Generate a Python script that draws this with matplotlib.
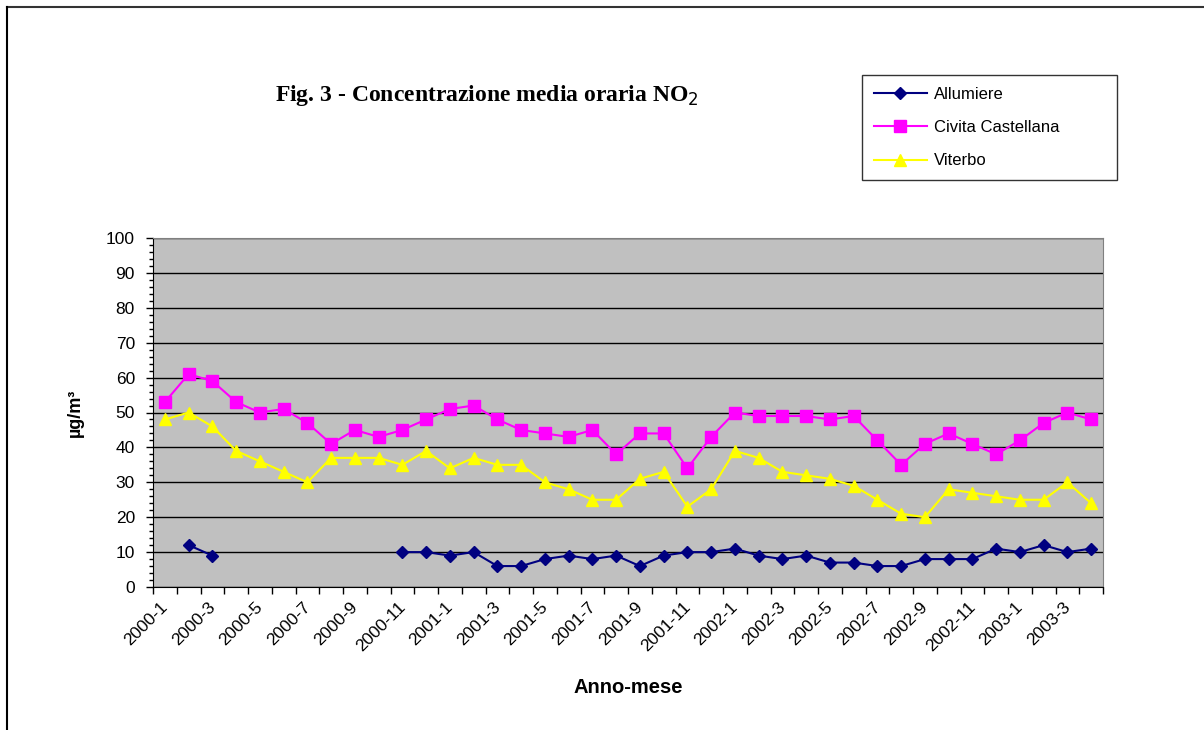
import numpy as np
from matplotlib import pyplot as plt
from matplotlib.lines import Line2D
from matplotlib.ticker import MultipleLocator

plt.rcParams['font.family'] = ['Liberation Sans', 'DejaVu Sans']

# months 2000-1 .. 2003-4
months = []
for year in [2000, 2001, 2002, 2003]:
    last = 4 if year == 2003 else 12
    for m in range(1, last + 1):
        months.append(str(year) + '-' + str(m))

nan = np.nan
allumiere = [nan, 12, 9, nan, nan, nan, nan, nan, nan, nan,
             10, 10, 9, 10, 6, 6, 8, 9, 8, 9,
             6, 9, 10, 10, 11, 9, 8, 9, 7, 7,
             6, 6, 8, 8, 8, 11, 10, 12, 10, 11]
civita = [53, 61, 59, 53, 50, 51, 47, 41, 45, 43,
          45, 48, 51, 52, 48, 45, 44, 43, 45, 38,
          44, 44, 34, 43, 50, 49, 49, 49, 48, 49,
          42, 35, 41, 44, 41, 38, 42, 47, 50, 48]
viterbo = [48, 50, 46, 39, 36, 33, 30, 37, 37, 37,
           35, 39, 34, 37, 35, 35, 30, 28, 25, 25,
           31, 33, 23, 28, 39, 37, 33, 32, 31, 29,
           25, 21, 20, 28, 27, 26, 25, 25, 30, 24]

x = np.arange(len(months))

fig = plt.figure(figsize=(12.04, 7.30), dpi=100)
ax = fig.add_axes([153/1204, 1 - 587/730, 950/1204, 349/730])
ax.set_facecolor('#C0C0C0')

ax.plot(x, allumiere, color='#000080', marker='D', markersize=6, lw=1.5, label='Allumiere')
ax.plot(x, civita, color='#FF00FF', marker='s', markersize=8, lw=1.5, label='Civita Castellana')
ax.plot(x, viterbo, color='#FFFF00', marker='^', markersize=9, lw=1.5, label='Viterbo')

ax.set_xlim(-0.5, len(months) - 0.5)
ax.set_ylim(0, 100)
ax.yaxis.set_major_locator(MultipleLocator(10))
ax.yaxis.set_minor_locator(MultipleLocator(2))
ax.grid(axis='y', which='major', color='black', lw=1)
ax.set_axisbelow(True)
ax.tick_params(axis='y', which='major', length=5, width=1, labelsize=12.5, pad=8)
ax.tick_params(axis='y', which='minor', length=3, width=1)

ax.set_xticks(np.arange(-0.5, len(months), 1))
ax.set_xticklabels([])
ax.tick_params(axis='x', length=5, width=1)
for i in range(0, len(months), 2):
    ax.text(i - 0.2, -3.5, months[i], rotation=45, ha='right', va='top',
            rotation_mode='anchor', fontsize=12.5, transform=ax.transData)

for s in ['top', 'right']:
    ax.spines[s].set_color('#808080')
ax.spines['left'].set_color('black')
ax.spines['bottom'].set_color('black')

ax.set_xlabel('Anno-mese', fontsize=14.5, fontweight='bold', labelpad=57)
ax.set_ylabel('µg/m³', fontsize=13, fontweight='bold', labelpad=16)

fig.text(487/1204, 1 - 95/730, 'Fig. 3 - Concentrazione media oraria NO$_2$',
         ha='center', va='center', fontsize=17, fontweight='bold',
         family=['Liberation Serif', 'DejaVu Serif'])

leg = ax.legend(loc='upper left', bbox_to_anchor=(862/1204, 1 - 183/730, 255/1204, 108/730),
                bbox_transform=fig.transFigure, mode='expand', fontsize=12,
                frameon=True, fancybox=False, edgecolor='black', borderaxespad=0,
                handlelength=3.2, handletextpad=0.4, labelspacing=1.1, borderpad=0.7)
leg.get_frame().set_linewidth(1)

fig.add_artist(Line2D([7/1204, 1], [1 - 7/730, 1 - 7/730], color='#333333', lw=1.5, transform=fig.transFigure))
fig.add_artist(Line2D([7/1204, 7/1204], [0, 1 - 7/730], color='black', lw=1.5, transform=fig.transFigure))

fig.savefig('out.png', dpi=100)
